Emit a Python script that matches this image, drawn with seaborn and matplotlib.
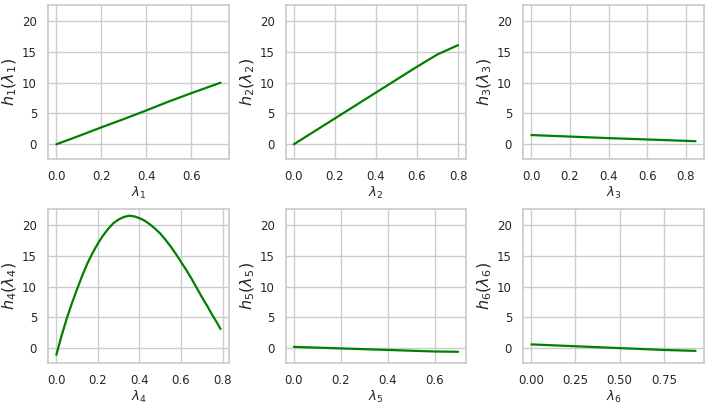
import numpy as np
import pandas as pd
import seaborn as sns
import matplotlib.pyplot as plt

# Values
lam1 = [0.0, 0.1, 0.2, 0.3, 0.4, 0.5, 0.6, 0.73]
h1 = [0.0, 1.35, 2.75, 4.1, 5.5, 6.95, 8.3, 10.0]

lam2 = [0.0, 0.1, 0.2, 0.3, 0.4, 0.5, 0.6, 0.7, 0.8]
h2 = [0.0, 2.1, 4.2, 6.3, 8.4, 10.5, 12.6, 14.6, 16.1]

lam3 = [0.0, 0.2, 0.4, 0.6, 0.85]
h3 = [1.5, 1.25, 1.0, 0.78, 0.5]

lam4 = [0.0, 0.025, 0.05, 0.075, 0.1, 0.125, 0.15, 0.175, 0.2, 0.225,
        0.25, 0.275, 0.3, 0.325, 0.35, 0.375, 0.4, 0.425, 0.45, 0.475,
        0.5, 0.525, 0.55, 0.575, 0.6, 0.625, 0.65, 0.675, 0.7, 0.725,
        0.75, 0.775, 0.79]
h4 = [-1.1, 2.0, 4.8, 7.3, 9.6, 11.8, 13.8, 15.5, 17.0, 18.3,
      19.4, 20.3, 20.9, 21.3, 21.5, 21.4, 21.1, 20.7, 20.1, 19.4,
      18.6, 17.6, 16.5, 15.3, 14.0, 12.7, 11.3, 9.8, 8.3, 6.9,
      5.4, 4.0, 3.1]

lam5 = [0.0, 0.2, 0.4, 0.6, 0.7]
h5 = [0.2, -0.05, -0.3, -0.55, -0.6]

lam6 = [0.0, 0.25, 0.5, 0.75, 0.93]
h6 = [0.6, 0.3, 0.0, -0.3, -0.45]

series = [(lam1, h1), (lam2, h2), (lam3, h3), (lam4, h4), (lam5, h5), (lam6, h6)]
xticks = [
    [0.0, 0.2, 0.4, 0.6],
    [0.0, 0.2, 0.4, 0.6, 0.8],
    [0.0, 0.2, 0.4, 0.6, 0.8],
    [0.0, 0.2, 0.4, 0.6, 0.8],
    [0.0, 0.2, 0.4, 0.6],
    [0.0, 0.25, 0.5, 0.75],
]

sns.set_theme(style="whitegrid")

fig, axes = plt.subplots(2, 3, figsize=(7.08, 4.08), dpi=100)

for i, (ax, (x, y), xt) in enumerate(zip(axes.flat, series, xticks), start=1):
    df = pd.DataFrame({"lam": x, "h": y})
    sns.lineplot(data=df, x="lam", y="h", color="green", linewidth=1.6, ax=ax)
    ax.set_ylim(-2.44, 22.64)
    ax.set_yticks([0, 5, 10, 15, 20])
    ax.set_xticks(xt)
    if i == 6:
        ax.set_xticklabels(["0.00", "0.25", "0.50", "0.75"])
    else:
        ax.set_xticklabels([f"{v:.1f}" for v in xt])
    ax.set_xlabel(f"$\\lambda_{i}$", fontsize=9.5, labelpad=1)
    ax.set_ylabel(f"$h_{i}(\\lambda_{i})$", fontsize=11.5, labelpad=2)
    ax.tick_params(labelsize=8.5, pad=2)

fig.subplots_adjust(left=0.068, right=0.994, top=0.988, bottom=0.11,
                    wspace=0.315, hspace=0.32)
plt.savefig("out.png")
